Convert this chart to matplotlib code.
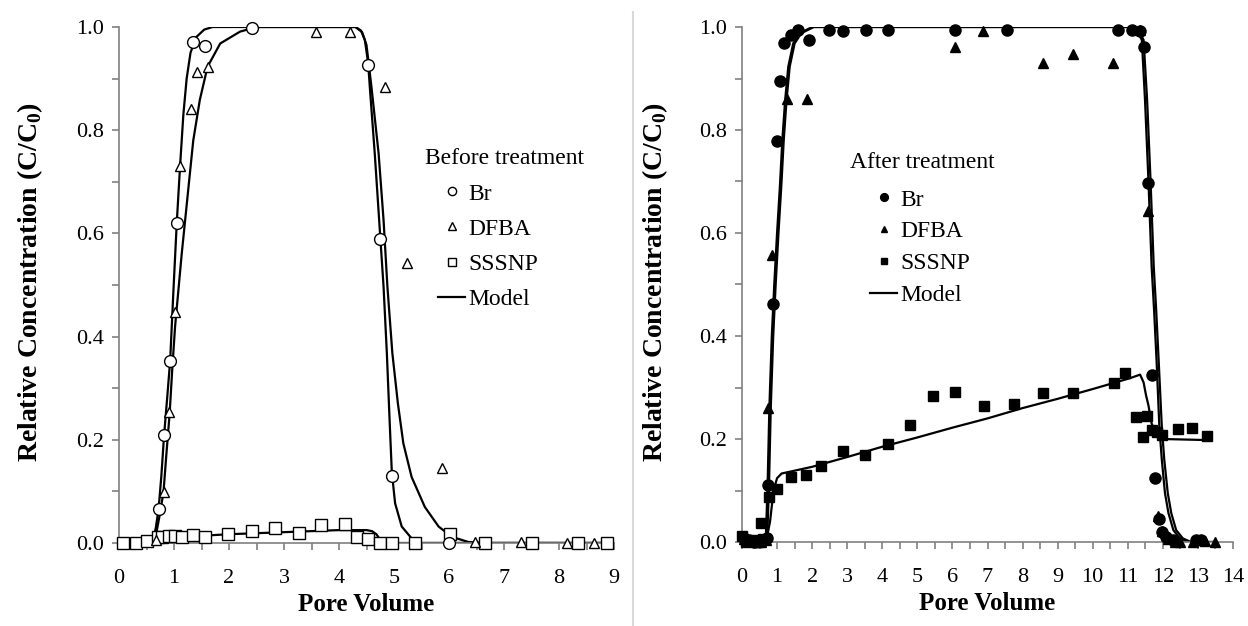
import numpy as np
import matplotlib
matplotlib.use('Agg')
import matplotlib.pyplot as plt
from matplotlib.lines import Line2D
from matplotlib.ticker import MultipleLocator, FormatStrFormatter

plt.rcParams['font.family'] = ['Liberation Serif', 'DejaVu Serif']
plt.rcParams['mathtext.fontset'] = 'custom'
plt.rcParams['mathtext.rm'] = 'Liberation Serif'
plt.rcParams['mathtext.bf'] = 'Liberation Serif:bold'

# ---- Before treatment (left panel) ----
br_b_x = [0.72, 0.82, 0.93, 1.05, 1.35, 1.57, 2.41, 4.53, 4.75, 4.96, 6.0]
br_b_y = [0.066, 0.209, 0.353, 0.62, 0.971, 0.963, 0.999, 0.926, 0.59, 0.13, 0.0]

dfba_b_x = [0.68, 0.81, 0.90, 1.01, 1.11, 1.31, 1.41, 1.61, 3.59, 4.2, 4.84, 5.24,
            5.87, 6.48, 7.31, 8.14, 8.64]
dfba_b_y = [0.005, 0.099, 0.254, 0.448, 0.731, 0.842, 0.912, 0.923, 0.991, 0.991,
            0.884, 0.542, 0.145, 0.002, 0.002, 0.0, 0.0]

sssnp_b_x = [0.08, 0.30, 0.50, 0.70, 0.79, 0.91, 1.01, 1.15, 1.35, 1.57, 1.99, 2.41,
             2.84, 3.27, 3.68, 4.11, 4.32, 4.53, 4.75, 4.96, 5.38, 6.02, 6.65, 7.50,
             8.35, 8.87]
sssnp_b_y = [0.0, 0.0, 0.003, 0.011, 0.011, 0.014, 0.014, 0.011, 0.016, 0.011, 0.017,
             0.024, 0.030, 0.019, 0.035, 0.036, 0.011, 0.008, 0.0, 0.0, 0.0, 0.017,
             0.0, 0.0, 0.0, 0.0]

# model curves
br_b_mx = [0, 0.45, 0.55, 0.62, 0.67, 0.72, 0.77, 0.82, 0.875, 0.93, 0.99, 1.05, 1.11,
           1.17, 1.23, 1.3, 1.4, 1.55, 1.7, 4.3, 4.4, 4.47, 4.53, 4.56, 4.65, 4.73,
           4.81, 4.87, 4.92, 4.96, 5.02, 5.14, 5.32, 5.5, 9.0]
br_b_my = [0, 0, -0.004, 0.005, 0.03, 0.066, 0.13, 0.209, 0.28, 0.353, 0.49, 0.62,
           0.73, 0.83, 0.9, 0.95, 0.98, 0.995, 1.0, 1.0, 0.993, 0.975, 0.93, 0.884,
           0.755, 0.626, 0.497, 0.368, 0.238, 0.138, 0.077, 0.032, 0.009, 0.0, 0.0]

dfba_b_mx = [0, 0.5, 0.6, 0.68, 0.75, 0.81, 0.86, 0.92, 0.97, 1.02, 1.08, 1.14, 1.24,
             1.35, 1.47, 1.61, 1.84, 2.2, 2.5, 4.3, 4.42, 4.5, 4.59, 4.72, 4.81, 4.88,
             4.97, 5.07, 5.17, 5.32, 5.56, 5.81, 6.05, 6.35, 6.6, 9.0]
dfba_b_my = [0, 0, 0.002, 0.02, 0.06, 0.1, 0.17, 0.25, 0.34, 0.42, 0.49, 0.56, 0.665,
             0.78, 0.859, 0.923, 0.968, 0.991, 1.0, 1.0, 0.99, 0.965, 0.884, 0.755,
             0.626, 0.497, 0.368, 0.271, 0.193, 0.128, 0.07, 0.032, 0.012, 0.002, 0.0,
             0.0]

sssnp_b_mx = [0, 0.5, 0.58, 0.65, 0.75, 0.9, 1.0, 1.5, 2.0, 2.5, 3.0, 3.5, 4.0, 4.5,
              4.6, 4.68, 4.75, 4.82, 9.0]
sssnp_b_my = [0, 0, 0.002, 0.006, 0.009, 0.011, 0.012, 0.014, 0.017, 0.019, 0.021,
              0.023, 0.025, 0.025, 0.023, 0.017, 0.006, 0.0, 0.0]

# ---- After treatment (right panel) ----
br_a_x = [0.02, 0.2, 0.35, 0.5, 0.62, 0.7, 0.75, 0.875, 0.99, 1.08, 1.21, 1.39, 1.61,
          1.92, 2.49, 2.89, 3.53, 4.17, 6.07, 7.55, 10.71, 11.11, 11.35, 11.47, 11.59,
          11.68, 11.78, 11.88, 11.97, 12.1, 12.3, 12.95, 13.1]
br_a_y = [0.01, 0.004, 0.0, 0.002, 0.003, 0.008, 0.111, 0.462, 0.779, 0.896, 0.968,
          0.984, 0.995, 0.975, 0.995, 0.992, 0.995, 0.995, 0.995, 0.995, 0.995, 0.995,
          0.992, 0.962, 0.697, 0.324, 0.124, 0.045, 0.02, 0.01, 0.003, 0.004, 0.003]

dfba_a_x = [0.05, 0.25, 0.4, 0.55, 0.68, 0.75, 0.85, 1.29, 1.84, 6.07, 6.88, 8.59,
            9.45, 10.59, 11.35, 11.59, 11.87, 11.97, 12.15, 12.35, 12.5, 12.85, 13.2,
            13.5]
dfba_a_y = [0.005, 0.002, 0.0, 0.0, 0.004, 0.26, 0.557, 0.86, 0.86, 0.962, 0.992,
            0.93, 0.948, 0.931, 0.995, 0.643, 0.05, 0.022, 0.005, 0.0, 0.0, 0.0,
            0.002, 0.0]

sssnp_a_x = [0.0, 0.12, 0.3, 0.45, 0.53, 0.6, 0.78, 0.99, 1.39, 1.82, 2.24, 2.89,
             3.51, 4.15, 4.79, 5.44, 6.07, 6.9, 7.76, 8.59, 9.45, 10.61, 10.92, 11.23,
             11.44, 11.56, 11.68, 11.82, 11.97, 12.42, 12.84, 13.25]
sssnp_a_y = [0.012, 0.0, 0.004, 0.0, 0.036, 0.005, 0.088, 0.102, 0.127, 0.131, 0.148,
             0.177, 0.169, 0.19, 0.228, 0.284, 0.291, 0.264, 0.268, 0.289, 0.29, 0.309,
             0.329, 0.242, 0.203, 0.245, 0.217, 0.214, 0.208, 0.219, 0.222, 0.206]

br_a_mx = [0, 0.6, 0.68, 0.73, 0.78, 0.85, 0.92, 1.0, 1.08, 1.15, 1.23, 1.32, 1.46,
           1.65, 2.0, 11.2, 11.4, 11.49, 11.59, 11.68, 11.75, 11.82, 11.9, 11.97, 12.06,
           12.16, 12.3, 12.49, 12.7, 13.5]
br_a_my = [0, 0, 0.01, 0.11, 0.26, 0.4, 0.5, 0.6, 0.69, 0.78, 0.858, 0.923, 0.968,
           0.988, 1.0, 1.0, 0.975, 0.86, 0.7, 0.535, 0.45, 0.353, 0.224, 0.16, 0.095,
           0.056, 0.023, 0.007, 0.0, 0.0]

dfba_a_mx = [0, 0.64, 0.72, 0.77, 0.82, 0.89, 0.96, 1.04, 1.12, 1.19, 1.27, 1.36, 1.5,
             1.69, 2.05, 11.25, 11.45, 11.55, 11.65, 11.74, 11.81, 11.88, 11.97, 12.04,
             12.14, 12.24, 12.38, 12.57, 12.8, 13.5]
dfba_a_my = br_a_my

sssnp_a_mx = [0, 0.6, 0.7, 0.8, 0.9, 1.0, 1.13, 2.0, 3.0, 4.0, 5.0, 6.0, 7.0, 8.0, 9.0,
              10.0, 11.06, 11.35, 11.45, 11.52, 11.59, 11.68, 11.82, 12.0, 13.2]
sssnp_a_my = [0, 0, 0.005, 0.04, 0.1, 0.124, 0.133, 0.146, 0.165, 0.185, 0.203, 0.222,
              0.24, 0.26, 0.278, 0.297, 0.318, 0.325, 0.31, 0.285, 0.265, 0.23, 0.208,
              0.2, 0.198]

W, H = 1248, 626
fig = plt.figure(figsize=(W / 100, H / 100), dpi=100)
ax1 = fig.add_axes([119 / W, (H - 543) / H, 495 / W, 516 / H])
ax2 = fig.add_axes([742 / W, (H - 542) / H, 491 / W, 515 / H])

axcol = '#808080'


def style_axis(ax, xmax, x0, y0):
    ax.set_xlim(0, xmax)
    ax.set_ylim(0, 1.0)
    for s in ['top', 'right']:
        ax.spines[s].set_visible(False)
    for s in ['left', 'bottom']:
        ax.spines[s].set_color(axcol)
        ax.spines[s].set_linewidth(1.2)
    ax.xaxis.set_major_locator(MultipleLocator(1))
    ax.xaxis.set_minor_locator(MultipleLocator(0.5))
    ax.yaxis.set_major_locator(MultipleLocator(0.2))
    ax.yaxis.set_minor_locator(MultipleLocator(0.1))
    ax.yaxis.set_major_formatter(FormatStrFormatter('%.1f'))
    ax.tick_params(which='both', direction='out', length=5, width=1.2, color=axcol,
                   labelsize=16, labelcolor='black')
    ax.tick_params(axis='x', pad=14)
    ax.tick_params(axis='y', pad=6)
    ax.set_xlabel('Pore Volume', fontsize=18, fontweight='bold', va='center')
    ax.set_ylabel(r'Relative Concentration (C/C$_\mathbf{0}$)', fontsize=20,
                  fontweight='bold', va='center')
    ax.xaxis.set_label_coords(0.5, -0.12)
    ax.yaxis.set_label_coords(x0, y0)


style_axis(ax1, 9, (30 - 119) / 495, 0.505)
style_axis(ax2, 14, (655 - 742) / 491, 0.505)

lw = 1.6
# left panel
for mx, my in [(br_b_mx, br_b_my), (dfba_b_mx, dfba_b_my), (sssnp_b_mx, sssnp_b_my)]:
    ax1.plot(mx, my, color='black', lw=lw, zorder=2)
open_kw = dict(ls='none', mfc='white', mec='black', mew=1.0, clip_on=False, zorder=3)
ax1.plot(sssnp_b_x, sssnp_b_y, marker='s', ms=8, **open_kw)
ax1.plot(dfba_b_x, dfba_b_y, marker='^', ms=7.5, **open_kw)
ax1.plot(br_b_x, br_b_y, marker='o', ms=8.5, **open_kw)

# right panel
for mx, my in [(br_a_mx, br_a_my), (dfba_a_mx, dfba_a_my), (sssnp_a_mx, sssnp_a_my)]:
    ax2.plot(mx, my, color='black', lw=lw, zorder=2)
fill_kw = dict(ls='none', color='black', clip_on=False, zorder=3)
ax2.plot(sssnp_a_x, sssnp_a_y, marker='s', ms=7, **fill_kw)
ax2.plot(dfba_a_x, dfba_a_y, marker='^', ms=7, **fill_kw)
ax2.plot(br_a_x, br_a_y, marker='o', ms=8, **fill_kw)

# legends
labels = ['Br', 'DFBA', 'SSSNP', 'Model']
h1 = [Line2D([], [], ls='none', marker='o', mfc='white', mec='black', ms=8.5),
      Line2D([], [], ls='none', marker='^', mfc='white', mec='black', ms=7.5),
      Line2D([], [], ls='none', marker='s', mfc='white', mec='black', ms=8),
      Line2D([], [], color='black', lw=lw)]
h2 = [Line2D([], [], ls='none', marker='o', color='black', ms=8),
      Line2D([], [], ls='none', marker='^', color='black', ms=7),
      Line2D([], [], ls='none', marker='s', color='black', ms=7),
      Line2D([], [], color='black', lw=lw)]

leg_kw = dict(frameon=False, fontsize=17, handlelength=1.15, handletextpad=0.15,
              borderpad=0, borderaxespad=0, markerscale=0.7, loc='upper left')
ax1.text((425 - 119) / 495, (543 - 158) / 516, 'Before treatment', transform=ax1.transAxes,
         fontsize=17, ha='left', va='center')
ax1.legend(h1, labels, bbox_to_anchor=((438 - 119) / 495, (543 - 183) / 516),
           labelspacing=0.58, **leg_kw)
ax2.text((850 - 742) / 491, (542 - 162) / 515, 'After treatment', transform=ax2.transAxes,
         fontsize=17, ha='left', va='center')
ax2.legend(h2, labels, bbox_to_anchor=((870 - 742) / 491, (542 - 189) / 515),
           labelspacing=0.44, **leg_kw)

# divider between the two panels
fig.add_artist(Line2D([633 / W, 633 / W], [0, 1 - 12 / H], transform=fig.transFigure,
                      color='#d9d9d9', lw=1.5))

fig.savefig('out.png', dpi=100)
